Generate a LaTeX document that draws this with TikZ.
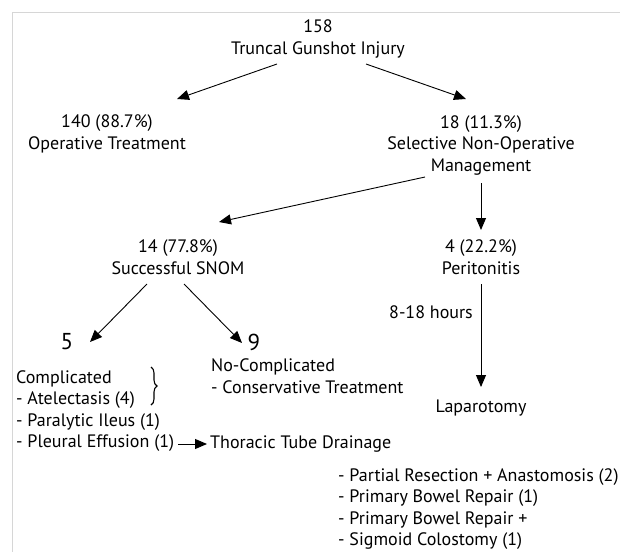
\documentclass[tikz,border=0pt]{standalone}
\usepackage{fontspec}
\setmainfont{PT Sans}
\usetikzlibrary{arrows.meta,decorations.pathreplacing}
\begin{document}
\begin{tikzpicture}[x=1pt,y=-1pt,
  txt/.style={inner sep=0pt, font=\fontsize{18}{21.5}\selectfont, align=center},
  lst/.style={inner sep=0pt, font=\fontsize{18}{21.5}\selectfont, align=left},
  big/.style={inner sep=0pt, font=\fontsize{23}{26}\selectfont},
  arr/.style={line width=0.9pt, -{Triangle[length=12pt,width=10pt]}},
  frameline/.style={draw=black!16, line width=1pt}]
\useasboundingbox (0,0) rectangle (620,552);
\draw[frameline] (620,12) -- (12,12) -- (12,552);

\node[txt] (root) at (318,39) {158\\Truncal Gunshot Injury};
\node[txt] (op) at (107,134) {140 (88.7\%)\\Operative Treatment};
\node[txt] (snom) at (481,145) {18 (11.3\%)\\Selective Non-Operative\\Management};
\node[txt] (succ) at (178,257) {14 (77.8\%)\\Successful SNOM};
\node[txt] (perit) at (481,257) {4 (22.2\%)\\Peritonitis};
\node[txt] (hrs) at (431,312) {8-18 hours};
\node[txt] (lap) at (481,408) {Laparotomy};
\node[big] (five) at (67,342) {5};
\node[big] (nine) at (254,342) {9};
\node[lst, anchor=west] (nocomp) at (211,376) {No-Complicated\\- Conservative Treatment};
\node[lst, anchor=west] (comp) at (16,411) {Complicated\\- Atelectasis (4)\\- Paralytic Ileus (1)\\- Pleural Effusion (1)};
\node[txt, anchor=west] (thor) at (210,444) {Thoracic Tube Drainage};
\node[lst, anchor=west] (ops) at (338,509) {- Partial Resection + Anastomosis (2)\\- Primary Bowel Repair (1)\\- Primary Bowel Repair +\\- Sigmoid Colostomy (1)};

\draw[line width=1.1pt, decorate, decoration={brace, amplitude=6pt}] (151,367) -- (151,405);

\draw[arr] ([shift={(-41,25)}]root.center) -- ([shift={(70,-35)}]op.center);
\draw[arr] ([shift={(48,25)}]root.center) -- ([shift={(-15,-46)}]snom.center);
\draw[arr] ([shift={(-56,32)}]snom.center) -- ([shift={(41,-35)}]succ.center);
\draw[arr] ([shift={(0,38)}]snom.center) -- ([shift={(0,-27)}]perit.center);
\draw[arr] ([shift={(0,27)}]perit.center) -- ([shift={(0,-21)}]lap.center);
\draw[arr] ([shift={(-31,27)}]succ.center) -- ([shift={(23,0)}]five.center);
\draw[arr] ([shift={(6,27)}]succ.center) -- ([shift={(-12,1)}]nine.center);
\draw[arr] ([shift={(4,33)}]comp.east) -- ([shift={(-3,0)}]thor.west);
\end{tikzpicture}
\end{document}
